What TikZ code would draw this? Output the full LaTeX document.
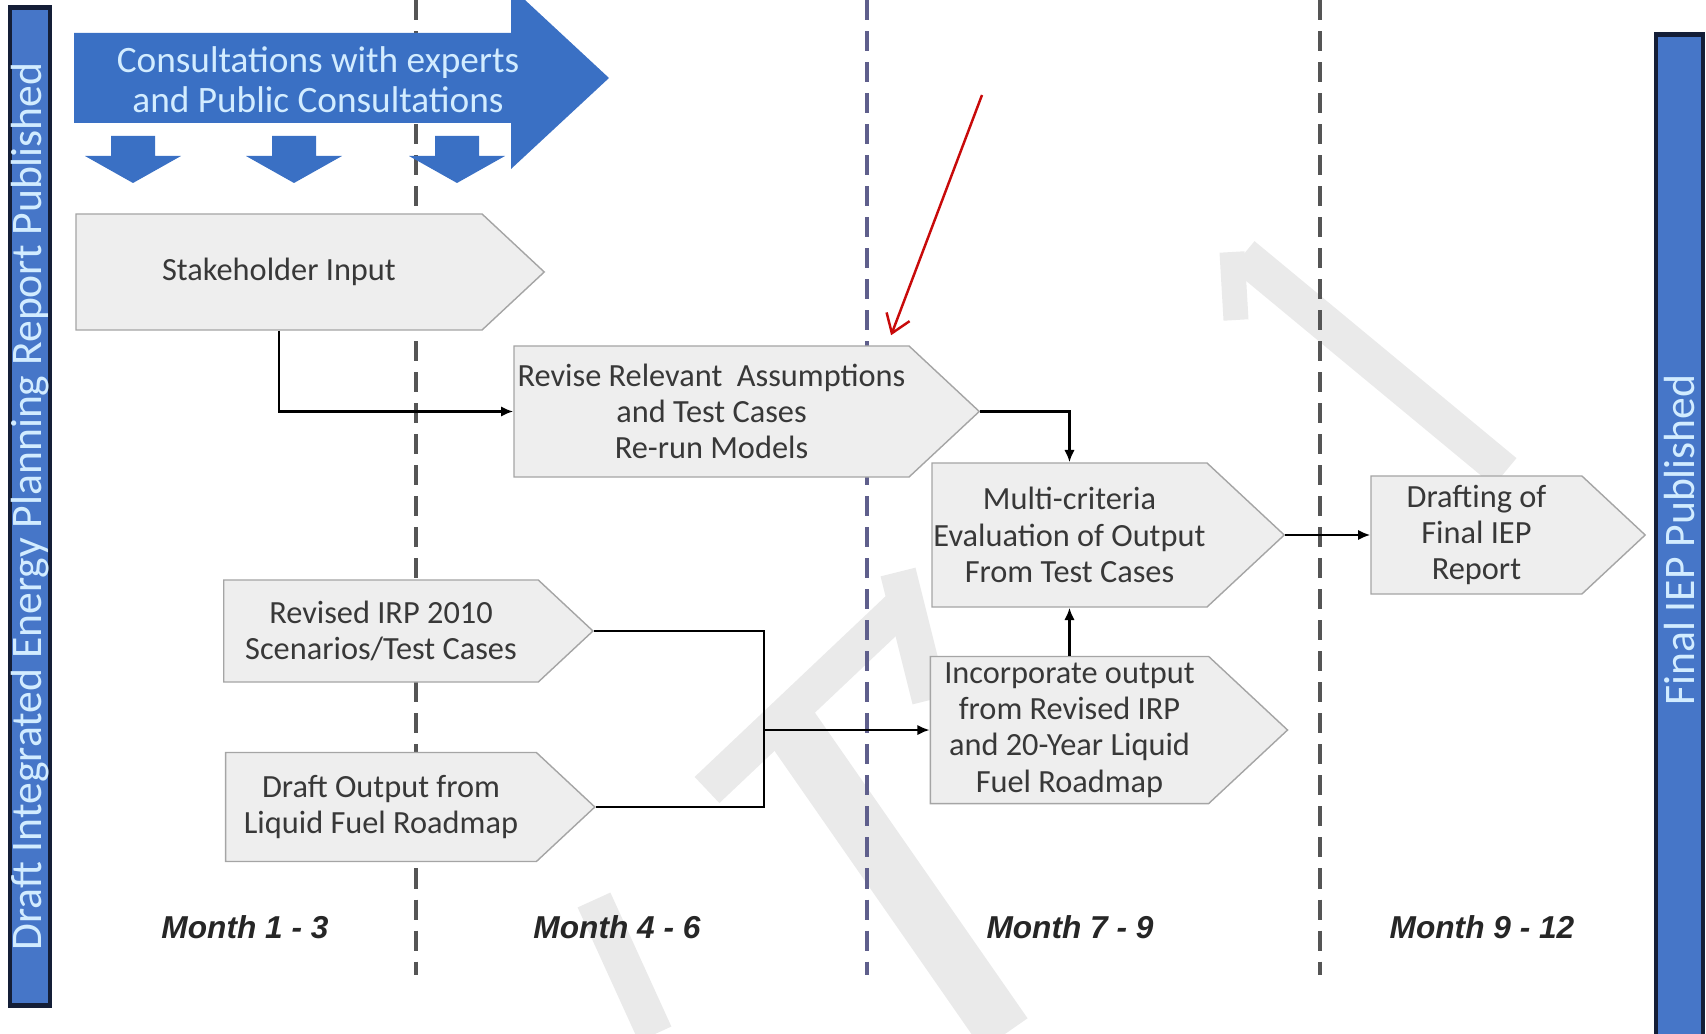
\documentclass[tikz,border=0pt]{standalone}
\usepackage{fontspec}
\setmainfont{Carlito}
\newfontfamily\monthfont{Liberation Sans}
\usepackage{tikz}
\usetikzlibrary{shapes.symbols, arrows.meta, positioning}
\definecolor{iepblue}{RGB}{58,112,196}
\definecolor{barblue}{RGB}{70,118,200}
\definecolor{barline}{RGB}{20,30,55}
\definecolor{bartext}{RGB}{210,236,255}
\definecolor{boxfill}{RGB}{238,238,238}
\definecolor{boxline}{RGB}{165,165,165}
\definecolor{lanegrey}{RGB}{85,85,85}
\definecolor{lanenavy}{RGB}{95,95,140}
\definecolor{notered}{RGB}{200,10,10}
\definecolor{wmgrey}{RGB}{234,234,234}

\begin{document}
\begin{tikzpicture}[
  x=0.01cm, y=-0.01cm,
  stagebox/.style={shape=signal, signal to=east, signal from=nowhere,
                   signal pointer angle=86, draw=boxline, fill=boxfill,
                   inner sep=0pt, align=center, text=black!78,
                   font=\fontsize{9.2}{10.3}\selectfont},
  pubbar/.style={draw=barline, line width=1.3pt, fill=barblue, rotate=90,
                 text=bartext, inner sep=0pt,
                 font=\fontsize{12.4}{14}\selectfont},
  month/.style={font=\monthfont\bfseries\itshape\fontsize{9}{11}\selectfont,
                text=black!85},
  lane/.style={line width=0.9pt, dash pattern=on 0.2cm off 0.11cm},
  link/.style={-{Latex[length=3.5pt, width=3pt]}, line width=0.8pt},
  note/.style={-{Straight Barb[length=5pt, width=7pt]}, notered, line width=0.7pt},
  wmark/.style={wmgrey, line width=0.36cm},
]
\useasboundingbox (0,0) rectangle (1706,1034);

%% --- watermark and month lanes ---
\draw[wmark] (1243,255) -- (1505,472);
\draw[wmark, line width=0.25cm] (1232,252) -- (1236,320);
\draw[wmark] (898,572) -- (930,700);
\draw[wmark, line width=0.55cm] (790,725) -- (1005,1034);
\draw[wmark] (707,790) -- (912,596);
\draw[wmark] (594,900) -- (655,1034);

\draw[lane, lanegrey] (416,0) -- (416,975);
\draw[lane, lanenavy] (867,0) -- (867,975);
\draw[lane, lanegrey] (1320,0) -- (1320,975);

%% --- publication bars ---
\node[pubbar, minimum width=9.97cm, minimum height=0.40cm] (draftpub) at (30,506.5)
  {Draft Integrated Energy Planning Report Published};
\node[pubbar, minimum width=10.1cm, minimum height=0.47cm] (finalpub) at (1679.5,540)
  {Final IEP Published};

%% --- consultations ---
\fill[iepblue] (74,33) -- (511,33) -- (511,-13) -- (609,78) -- (511,169) -- (511,123) -- (74,123) -- cycle;
\node[text=bartext, align=center, font=\fontsize{10.6}{11.4}\selectfont] (consult) at (318,80)
  {Consultations with experts\\and Public Consultations};
\fill[iepblue] (111,136) -- ++(44,0) -- ++(0,20) -- ++(26,0) -- ++(-48,27) -- ++(-48,-27) -- ++(26,0) -- cycle;
\fill[iepblue] (272,136) -- ++(44,0) -- ++(0,20) -- ++(26,0) -- ++(-48,27) -- ++(-48,-27) -- ++(26,0) -- cycle;
\fill[iepblue] (435,136) -- ++(44,0) -- ++(0,20) -- ++(26,0) -- ++(-48,27) -- ++(-48,-27) -- ++(26,0) -- cycle;

%% --- stages ---
\node[stagebox, minimum width=4.68cm, minimum height=1.16cm] (stake) at (279,272) {Stakeholder Input};
\node[stagebox, minimum width=4.65cm, minimum height=1.31cm] (revise) at (711.5,411.5)
  {Revise Relevant~ Assumptions\\and Test Cases\\Re-run Models};
\node[stagebox, minimum width=3.52cm, minimum height=1.44cm] (multi) at (1069.5,535)
  {Multi-criteria\\Evaluation of Output\\From Test Cases};
\node[stagebox, minimum width=2.74cm, minimum height=1.18cm, right=0.85cm of multi] (drafting)
  {Drafting of\\Final IEP\\Report};
\node[stagebox, minimum width=3.57cm, minimum height=1.47cm, below=0.48cm of multi] (incorp)
  {Incorporate output\\from Revised IRP\\and 20-Year Liquid\\Fuel Roadmap};
\node[stagebox, minimum width=3.69cm, minimum height=1.02cm] (irp) at (381,631)
  {Revised IRP 2010\\Scenarios/Test Cases};
\node[stagebox, minimum width=3.69cm, minimum height=1.09cm, below=0.69cm of irp] (liquid)
  {Draft Output from\\Liquid Fuel Roadmap};

%% --- flows ---
\draw[link] (stake.south) |- (revise.west);
\draw[link] (revise.east) -| (multi.north);
\draw[link] (incorp.north) -- (multi.south);
\draw[link] (multi.east) -- (drafting.west);
\coordinate (join) at ([xshift=-1.655cm]incorp.west);
\draw[line width=0.8pt] (irp.east) -| (join) |- (liquid.east);
\draw[link] (join) -- (incorp.west);

%% --- note ---
\coordinate (notetail) at (982,95);
\draw[note] (notetail) -- ([xshift=1.795cm, yshift=0.1cm]revise.north);

%% --- months ---
\node[month] (m1) at (245,927) {Month 1 - 3};
\node[month] (m2) at (617,927) {Month 4 - 6};
\node[month] (m3) at (1070,927) {Month 7 - 9};
\node[month] (m4) at (1482,927) {Month 9 - 12};

\end{tikzpicture}
\end{document}
